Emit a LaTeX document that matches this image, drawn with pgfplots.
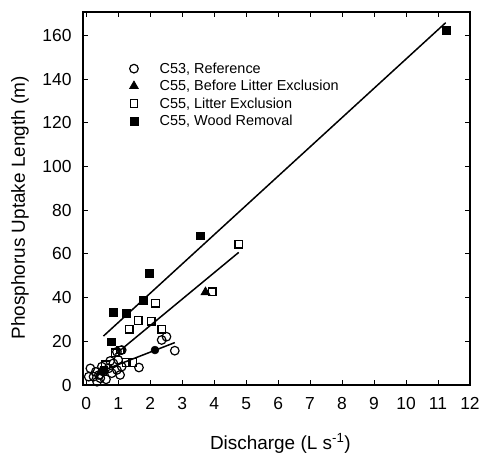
\documentclass[border=0pt]{standalone}
\usepackage{pgfplots}
\pgfplotsset{compat=1.18}
\usepackage{fontspec}
\setmainfont{Liberation Sans}
\begin{document}
\begin{tikzpicture}
\begin{axis}[
  at={(0,0)}, anchor=south west,
  scale only axis, width=387bp, height=373bp,
  xmin=-0.1, xmax=12, ymin=0, ymax=170.7,
  xtick={0,1,...,12}, ytick={0,20,...,160},
  tick align=inside, major tick length=5bp,
  tick style={line width=1bp, black},
  axis line style={line width=1.3bp},
  /pgf/number format/assume math mode=true,
  ticklabel style={font=\fontsize{17.5}{19}\selectfont},
  xticklabel style={yshift=-9bp},
  yticklabel style={xshift=-8bp},
  xlabel={Discharge (L s\textsuperscript{-1})},
  ylabel={Phosphorus Uptake Length (m)},
  label style={font=\fontsize{19}{21}\selectfont},
  xlabel style={at={(axis description cs:0.51,-0.172)}, anchor=base},
  ylabel style={at={(axis description cs:-0.15,0.475)}, anchor=base, rotate=0},
  legend style={draw=none, fill=none, at={(axis description cs:0.114,0.870)}, anchor=north west,
     inner sep=0pt, font=\fontsize{14.5}{16}\selectfont, row sep=1.5bp},
  legend cell align=left,
  legend image code/.code={\draw[#1] plot coordinates {(0bp,0bp)}; \path (-6bp,0bp) (23bp,0bp);},
]
\addplot[only marks, mark=o, mark size=4.3bp, line width=1.2bp] coordinates {
(0.13,7.6) (0.08,3.8) (0.23,3.8) (0.34,1.5) (0.44,3.1) (0.54,6.1) (0.49,8.4)
(0.70,7.6) (0.85,9.9) (0.80,5.4) (0.96,6.9) (1.06,4.6) (1.11,8.4) (1.65,8.0)
(1.11,16) (0.96,15.2) (2.36,20.6) (2.51,22.1) (2.77,15.7) (0.30,6.0) (0.62,2.6)
(0.40,4.6) (0.75,11.0) (1.0,11.5)
};
\addlegendentry{C53, Reference}
\addplot[only marks, mark=triangle*, mark size=5bp, line width=0.8bp] coordinates {
(3.73,42.5) (0.45,6.0)
};
\addlegendentry{C55, Before Litter Exclusion}
\addplot[only marks, mark=square, mark size=3.8bp, line width=1.3bp] coordinates {
(4.77,64.5) (3.94,42.7) (2.17,37.4) (1.63,29.5) (2.03,29.2) (1.34,25.5)
(2.36,25.5) (1.06,16) (0.91,14.8) (1.25,10.3) (1.45,10.3) (0.6,9.2)
};
\addlegendentry{C55, Litter Exclusion}
\addplot[only marks, mark=square*, mark size=3.8bp] coordinates {
(11.25,162.5) (3.57,68.3) (1.97,51.3) (1.79,38.9) (0.85,33.3) (1.25,32.8)
(0.78,19.8) (0.55,7.0)
};
\addlegendentry{C55, Wood Removal}
\addplot[only marks, mark=*, mark size=4bp, forget plot] coordinates {(2.15,16.0)};
\addplot[line width=1.5bp, forget plot] coordinates {(0.5,6.5) (2.77,19.4)};
\addplot[line width=1.5bp, forget plot] coordinates {(0.91,14.0) (4.77,60.7)};
\addplot[line width=1.5bp, forget plot] coordinates {(0.54,22.4) (11.24,165.8)};
\end{axis}
\pgfresetboundingbox
\useasboundingbox (-83bp,-70bp) rectangle (399bp,385bp);
\end{tikzpicture}
\end{document}
